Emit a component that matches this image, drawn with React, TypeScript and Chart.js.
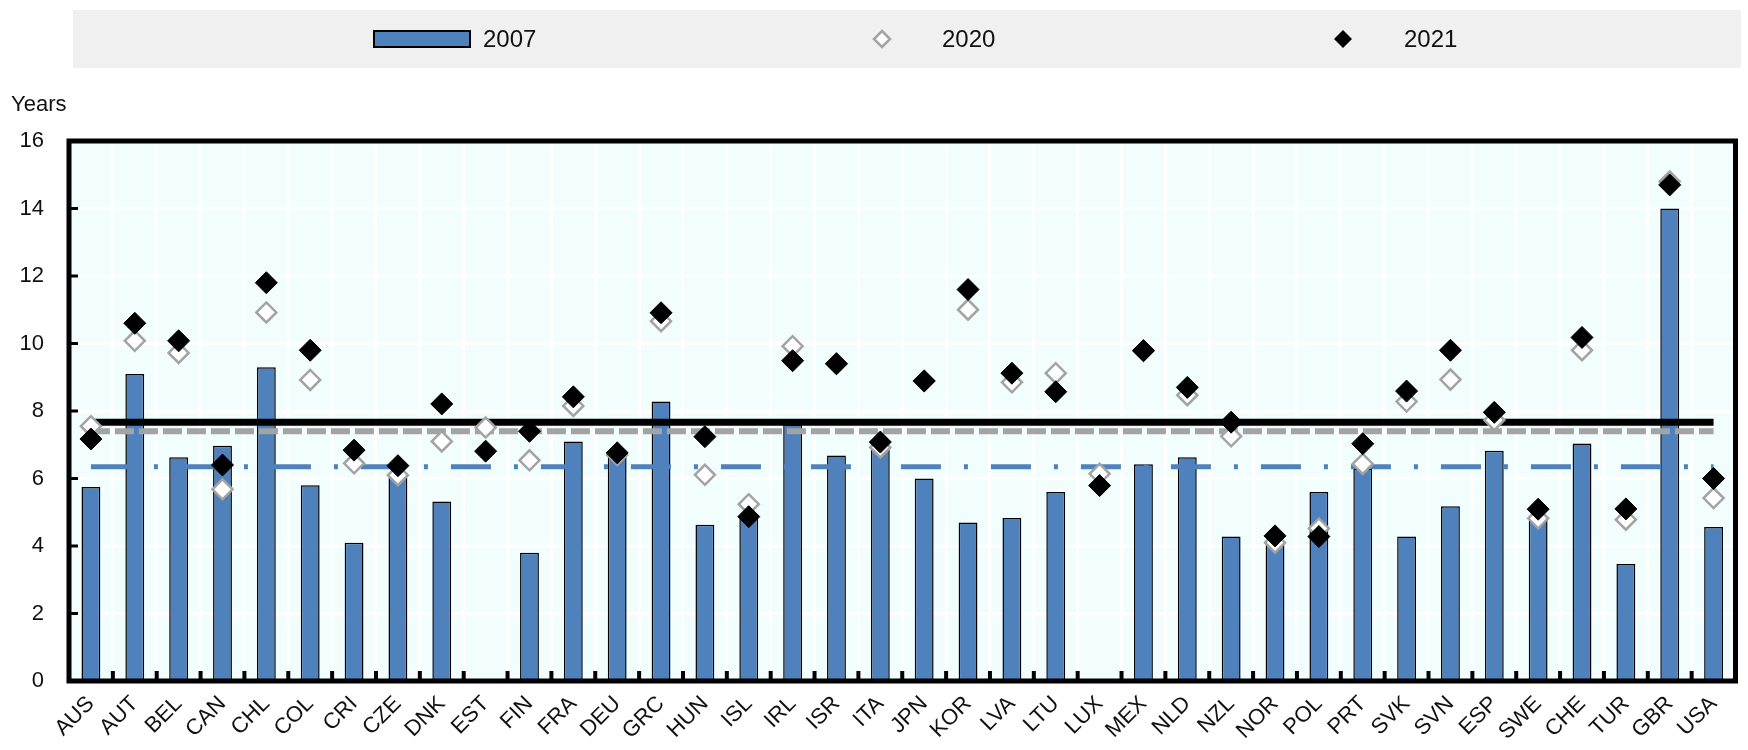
import React, { useEffect, useRef } from "react";
import { Chart, registerables } from "chart.js";

Chart.register(...registerables);

const categories = [
  "AUS", "AUT", "BEL", "CAN", "CHL", "COL", "CRI", "CZE", "DNK", "EST",
  "FIN", "FRA", "DEU", "GRC", "HUN", "ISL", "IRL", "ISR", "ITA", "JPN",
  "KOR", "LVA", "LTU", "LUX", "MEX", "NLD", "NZL", "NOR", "POL", "PRT",
  "SVK", "SVN", "ESP", "SWE", "CHE", "TUR", "GBR", "USA",
];

const values2007: (number | null)[] = [
  5.75, 9.1, 6.63, 6.97, 9.3, 5.8, 4.1, 6.1, 5.32, null,
  3.8, 7.1, 6.7, 8.28, 4.63, 4.88, 7.6, 6.68, 6.92, 6.0,
  4.7, 4.83, 5.6, null, 6.42, 6.63, 4.28, 4.05, 5.6, 6.3,
  4.28, 5.18, 6.82, 4.85, 7.04, 3.47, 14.0, 4.56,
];

const values2020: number[] = [
  7.55, 10.08, 9.72, 5.68, 10.92, 8.92, 6.45, 6.1, 7.1, 7.51,
  6.54, 8.15, 6.7, 10.66, 6.11, 5.24, 9.92, 9.4, 6.92, 8.89,
  11.0, 8.85, 9.12, 6.14, 9.78, 8.47, 7.25, 4.1, 4.52, 6.43,
  8.28, 8.93, 7.73, 4.82, 9.8, 4.78, 14.8, 5.42,
];

const values2021: number[] = [
  7.17, 10.6, 10.08, 6.4, 11.8, 9.8, 6.84, 6.38, 8.21, 6.81,
  7.4, 8.42, 6.76, 10.91, 7.24, 4.87, 9.49, 9.4, 7.08, 8.89,
  11.6, 9.12, 8.57, 5.79, 9.79, 8.7, 7.67, 4.3, 4.28, 7.03,
  8.59, 9.8, 7.96, 5.09, 10.18, 5.1, 14.7, 6.0,
];

const avg2021 = 7.67;
const avg2020 = 7.4;
const avg2007 = 6.35;

const yTicks = [0, 2, 4, 6, 8, 10, 12, 14, 16];

const legendLabels = ["2007", "2020", "2021"];
const yAxisTitle = "Years";

const BLUE = "#4f81bd";
const GREY = "#a3a3a3";
const FONT = "'Liberation Sans', Arial, sans-serif";

function drawDiamond(ctx: CanvasRenderingContext2D, x: number, y: number, r: number) {
  ctx.beginPath();
  ctx.moveTo(x, y - r);
  ctx.lineTo(x + r, y);
  ctx.lineTo(x, y + r);
  ctx.lineTo(x - r, y);
  ctx.closePath();
}

const decorPlugin = {
  id: "decor",
  beforeDraw(chart: any) {
    const { ctx, chartArea: a } = chart;
    ctx.save();
    // plot background
    ctx.fillStyle = "#f2fefe";
    ctx.fillRect(a.left, a.top, a.right - a.left, a.bottom - a.top);

    // legend box
    ctx.fillStyle = "#f0f0f0";
    ctx.fillRect(73, 10, 1741 - 73, 58);
    const cy = 39;
    // 2007 swatch
    ctx.fillStyle = BLUE;
    ctx.fillRect(374, 31, 96, 16);
    ctx.lineWidth = 2;
    ctx.strokeStyle = "#000";
    ctx.strokeRect(374, 31, 96, 16);
    ctx.fillStyle = "#111";
    ctx.font = `24px ${FONT}`;
    ctx.textBaseline = "middle";
    ctx.textAlign = "left";
    ctx.fillText(legendLabels[0], 483, cy + 1);
    // 2020 marker
    drawDiamond(ctx, 882, cy, 8);
    ctx.fillStyle = "#fff";
    ctx.fill();
    ctx.lineWidth = 2.5;
    ctx.strokeStyle = GREY;
    ctx.stroke();
    ctx.fillStyle = "#111";
    ctx.fillText(legendLabels[1], 942, cy + 1);
    // 2021 marker
    drawDiamond(ctx, 1343, cy, 9);
    ctx.fillStyle = "#000";
    ctx.fill();
    ctx.fillStyle = "#111";
    ctx.fillText(legendLabels[2], 1404, cy + 1);

    // y axis title
    ctx.font = `22px ${FONT}`;
    ctx.fillStyle = "#111";
    ctx.textAlign = "left";
    ctx.fillText(yAxisTitle, 11, 105);
    ctx.restore();
  },
  afterDraw(chart: any) {
    const { ctx, chartArea: a, scales } = chart;
    const xs = scales.x;
    const ys = scales.y;
    ctx.save();
    ctx.strokeStyle = "#000";
    // inner y ticks
    ctx.lineWidth = 3;
    yTicks.forEach((v) => {
      if (v === 0 || v === 16) return;
      const py = ys.getPixelForValue(v);
      ctx.beginPath();
      ctx.moveTo(a.left, py);
      ctx.lineTo(a.left + 9, py);
      ctx.stroke();
    });
    // inner x ticks at category boundaries
    ctx.lineWidth = 4;
    for (let i = 1; i < categories.length; i++) {
      const px = (xs.getPixelForValue(i - 1) + xs.getPixelForValue(i)) / 2;
      ctx.beginPath();
      ctx.moveTo(px, a.bottom);
      ctx.lineTo(px, a.bottom - 10);
      ctx.stroke();
    }
    // frame
    ctx.lineWidth = 5;
    ctx.strokeRect(a.left, a.top, a.right - a.left, a.bottom - a.top);
    ctx.restore();
  },
};

export default function App() {
  const ref = useRef<HTMLCanvasElement | null>(null);

  useEffect(() => {
    document.body.style.margin = "0";
    const canvas = ref.current;
    if (!canvas) return;
    const n = categories.length;
    const chart = new Chart(canvas, {
      type: "bar",
      data: {
        labels: categories,
        datasets: [
          {
            type: "scatter" as any,
            label: "2021",
            data: values2021.map((v, i) => ({ x: categories[i], y: v })) as any,
            pointStyle: "rectRot",
            pointRadius: 11,
            backgroundColor: "#000",
            borderColor: "#000",
            borderWidth: 1,
            order: 1,
          },
          {
            type: "scatter" as any,
            label: "2020",
            data: values2020.map((v, i) => ({ x: categories[i], y: v })) as any,
            pointStyle: "rectRot",
            pointRadius: 10,
            backgroundColor: "#fff",
            borderColor: GREY,
            borderWidth: 2.5,
            order: 2,
          },
          {
            type: "line",
            label: "avg2007",
            data: new Array(n).fill(avg2007),
            borderColor: BLUE,
            borderWidth: 5,
            borderDash: [40, 23, 4, 23],
            pointRadius: 0,
            fill: false,
            order: 5,
          },
          {
            type: "line",
            label: "avg2020",
            data: new Array(n).fill(avg2020),
            borderColor: GREY,
            borderWidth: 6,
            borderDash: [19, 5],
            pointRadius: 0,
            fill: false,
            order: 4,
          },
          {
            type: "line",
            label: "avg2021",
            data: new Array(n).fill(avg2021),
            borderColor: "#000",
            borderWidth: 7,
            pointRadius: 0,
            fill: false,
            order: 3,
          },
          {
            type: "bar",
            label: "2007",
            data: values2007 as any,
            backgroundColor: BLUE,
            borderColor: "#000",
            borderWidth: 1.5,
            barPercentage: 0.43,
            categoryPercentage: 1,
            order: 10,
          },
        ],
      },
      options: {
        animation: false,
        responsive: false,
        maintainAspectRatio: false,
        layout: { padding: { top: 141, left: 0, right: 9, bottom: 0 } },
        plugins: {
          legend: { display: false },
          tooltip: { enabled: false },
          title: { display: false },
        },
        scales: {
          x: {
            type: "category",
            offset: true,
            grid: {
              offset: true,
              color: "#ffffff",
              lineWidth: 3,
              drawTicks: false,
            },
            border: { display: false },
            ticks: {
              autoSkip: false,
              maxRotation: 45,
              minRotation: 45,
              padding: 10,
              color: "#111",
              font: { family: FONT, size: 22 },
            },
            afterFit(scale: any) {
              scale.height = 69;
            },
          },
          y: {
            min: 0,
            max: 16,
            afterBuildTicks(scale: any) {
              scale.ticks = yTicks.map((v) => ({ value: v }));
            },
            grid: {
              color: "#ffffff",
              lineWidth: 3,
              drawTicks: false,
            },
            border: { display: false },
            ticks: {
              padding: 25,
              color: "#111",
              font: { family: FONT, size: 22 },
            },
            afterFit(scale: any) {
              scale.width = 69;
            },
          },
        },
      },
      plugins: [decorPlugin],
    });
    return () => chart.destroy();
  }, []);

  return (
    <div style={{ width: 1748, height: 750 }}>
      <canvas ref={ref} width={1748} height={750} style={{ display: "block" }} />
    </div>
  );
}
